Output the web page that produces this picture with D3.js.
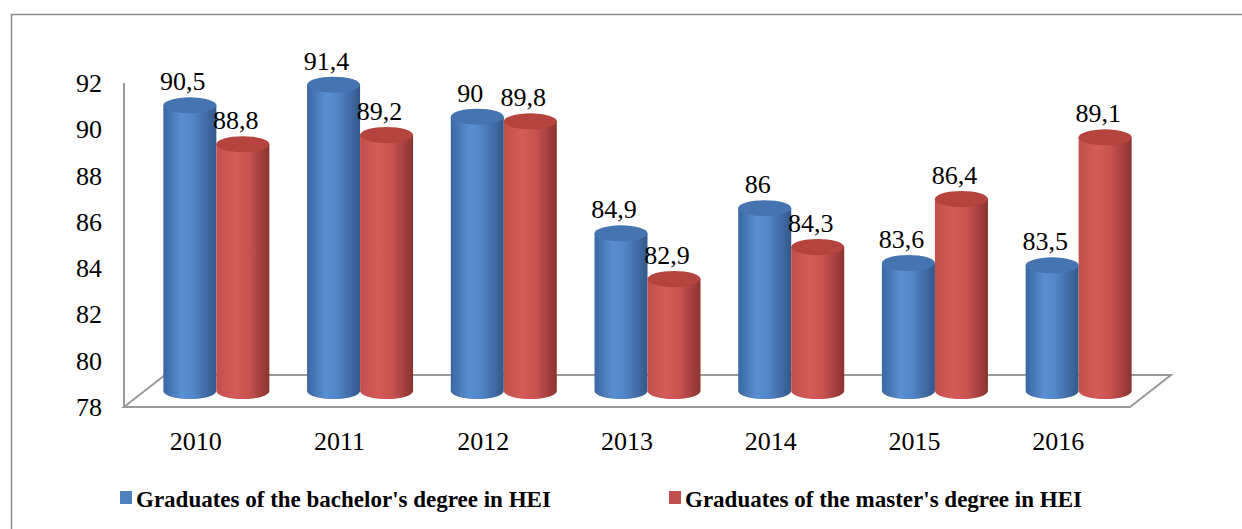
<!DOCTYPE html>
<html>
<head>
<meta charset="utf-8">
<script src="https://cdn.jsdelivr.net/npm/d3@7"></script>
</head>
<body style="margin:0; background:#fff">
<script>
var years = ["2010", "2011", "2012", "2013", "2014", "2015", "2016"];
var bachelor = [90.5, 91.4, 90, 84.9, 86, 83.6, 83.5];
var master = [88.8, 89.2, 89.8, 82.9, 84.3, 86.4, 89.1];
var yTicks = [78, 80, 82, 84, 86, 88, 90, 92];
var seriesNames = ["Graduates of the bachelor's degree in HEI", "Graduates of the master's degree in HEI"];

var full_width = 1242, full_height = 529;
var depth = {'dx': 41, 'dy': -32};
var serif = "'Liberation Serif', monospace";

var svg = d3.select("body").append("svg")
            .attr("width", full_width)
            .attr("height", full_height);

// outer frame
svg.append("rect")
   .attr("x", 11.5).attr("y", 14.5)
   .attr("width", 1300).attr("height", 600)
   .attr("fill", "none")
   .attr("stroke", "#8c8c8c")
   .attr("stroke-width", 1.5);

// scales
var x = d3.scaleBand().domain(years).range([124, 1130]);
var y = d3.scaleLinear().domain([78, 92]).range([407, 83]);   // front axis
var yBar = d3.scaleLinear().domain([78, 92]).range([391, 71]); // bars sit mid-depth

var defs = svg.append("defs");
function addGrad(id, stops){
    var g = defs.append("linearGradient").attr("id", id)
                .attr("x1", "0%").attr("x2", "100%").attr("y1", "0%").attr("y2", "0%");
    stops.forEach(s => g.append("stop").attr("offset", s[0]).attr("stop-color", s[1]));
}
addGrad("gBlue", [["0%", "#3b67a2"], ["35%", "#5a8ed2"], ["55%", "#5487ca"], ["100%", "#33588a"]]);
addGrad("gRed", [["0%", "#c34f4c"], ["35%", "#d35c59"], ["60%", "#c9534f"], ["100%", "#8a3331"]]);
var topColor = ["#4674b0", "#b5443f"];
var bodyFill = ["url(#gBlue)", "url(#gRed)"];

// floor
var floorPts = [[124, 407], [124 + depth.dx, 407 + depth.dy], [1130 + depth.dx, 407 + depth.dy], [1130, 407]];
svg.append("polygon")
   .attr("points", floorPts.map(p => p.join(",")).join(" "))
   .attr("fill", "#fff")
   .attr("stroke", "#9a9a9a")
   .attr("stroke-width", 2);

// vertical axis line
svg.append("line")
   .attr("x1", 124).attr("x2", 124)
   .attr("y1", y(92)).attr("y2", y(78))
   .attr("stroke", "#9a9a9a").attr("stroke-width", 2);

// y tick labels
svg.selectAll(".ytick")
   .data(yTicks)
   .enter().append("text")
   .attr("class", "ytick")
   .attr("x", 102)
   .attr("y", d => y(d) + 9)
   .attr("text-anchor", "end")
   .style("font-size", "26px")
   .style("font-family", serif)
   .text(d => d);

// x labels
svg.selectAll(".xlab")
   .data(years)
   .enter().append("text")
   .attr("class", "xlab")
   .attr("x", d => x(d) + x.bandwidth() / 2)
   .attr("y", 450)
   .attr("text-anchor", "middle")
   .style("font-size", "26px")
   .style("font-family", serif)
   .text(d => d);

// cylinders
var rx = 26.5, ry = 8;
var bars = [];
years.forEach((yr, i) => {
    var mid = x(yr) + x.bandwidth() / 2 + depth.dx / 2;
    bars.push({'year': yr, 's': 0, 'v': bachelor[i], 'cx': mid - rx});
    bars.push({'year': yr, 's': 1, 'v': master[i], 'cx': mid + rx});
});

var cyl = svg.selectAll(".cyl")
             .data(bars)
             .enter().append("g")
             .attr("class", "cyl");

cyl.append("path")
   .attr("d", d => {
       var yt = yBar(d.v), yb = yBar(78);
       return "M" + (d.cx - rx) + "," + yt +
              " L" + (d.cx - rx) + "," + yb +
              " A" + rx + " " + ry + " 0 0 0 " + (d.cx + rx) + "," + yb +
              " L" + (d.cx + rx) + "," + yt + " Z";
   })
   .attr("fill", d => bodyFill[d.s]);

cyl.append("ellipse")
   .attr("cx", d => d.cx)
   .attr("cy", d => yBar(d.v))
   .attr("rx", rx).attr("ry", ry)
   .attr("fill", d => topColor[d.s]);

// data labels
svg.selectAll(".dlab")
   .data(bars)
   .enter().append("text")
   .attr("class", "dlab")
   .attr("x", d => d.cx - 7)
   .attr("y", d => yBar(d.v) - ry - 7)
   .attr("text-anchor", "middle")
   .style("font-size", "26px")
   .style("font-family", serif)
   .text(d => String(d.v).replace(".", ","));

// legend
var legX = [120, 669];
var leg = svg.selectAll(".leg")
             .data(seriesNames)
             .enter().append("g")
             .attr("class", "leg")
             .attr("transform", (d, i) => "translate(" + legX[i] + ",491)");
leg.append("rect")
   .attr("width", 12).attr("height", 13)
   .attr("fill", (d, i) => ["#4f81bd", "#c0504d"][i]);
leg.append("text")
   .attr("x", 16).attr("y", 16)
   .style("font-size", "23px")
   .style("font-weight", "bold")
   .style("font-family", serif)
   .text(d => d);
</script>
</body>
</html>
